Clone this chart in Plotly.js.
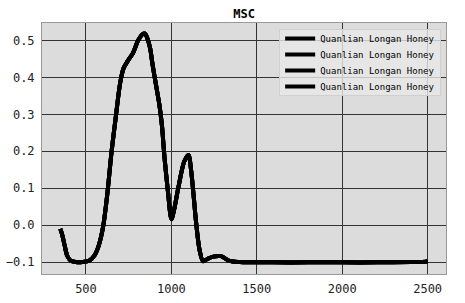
<!DOCTYPE html>
<html><head><meta charset="utf-8">
<script src="https://cdn.plot.ly/plotly-3.0.1.min.js"></script>
<style>html,body{margin:0;padding:0;background:#fff;}#chart{width:465px;height:303px;}</style>
</head><body><div id="chart"></div>
<script>
const wavelengths = [350,360,375,390,410,440,480,520,550,575,600,625,650,675,700,720,745,775,805,830,845,860,875,890,910,930,945,960,980,1000,1015,1040,1075,1100,1115,1130,1145,1165,1185,1210,1240,1290,1340,1400,1600,1800,2000,2200,2400,2490,2500];
const msc = [-0.010,-0.025,-0.055,-0.083,-0.096,-0.100,-0.100,-0.096,-0.082,-0.055,-0.005,0.085,0.200,0.295,0.385,0.425,0.445,0.466,0.500,0.517,0.519,0.505,0.480,0.434,0.379,0.325,0.268,0.181,0.090,0.016,0.040,0.100,0.172,0.190,0.150,0.080,0.005,-0.068,-0.098,-0.092,-0.086,-0.084,-0.097,-0.100,-0.101,-0.101,-0.101,-0.101,-0.100,-0.099,-0.098];
const seriesNames = ["Quanlian Longan Honey","Quanlian Longan Honey","Quanlian Longan Honey","Quanlian Longan Honey"];
const xTicks = [500,1000,1500,2000,2500];
const yTicks = [-0.1,0.0,0.1,0.2,0.3,0.4,0.5];
const yTickText = ["\u22120.1","0.0","0.1","0.2","0.3","0.4","0.5"];
const titleText = "MSC";

const traces = seriesNames.map(n => ({
  x: wavelengths, y: msc, name: n, type: 'scatter', mode: 'lines',
  line: {color: '#000', width: 4, shape: 'spline', smoothing: 0.8}
}));
const mono = "DejaVu Sans Mono, monospace";
const layout = {
  width: 465, height: 303,
  margin: {l: 42, r: 19, t: 23, b: 29},
  paper_bgcolor: '#fff', plot_bgcolor: '#dcdcdc',
  title: {text: titleText, font: {family: mono, size: 12, color: '#000', weight: 'bold'}, x: 0.525, xanchor: 'center', y: 0.955, yanchor: 'middle'},
  xaxis: {range: [242.5, 2607.5], tickvals: xTicks, ticks: '', showgrid: true, gridcolor: '#333', gridwidth: 1,
    zeroline: false, showline: true, mirror: true, linecolor: '#999', linewidth: 1,
    tickfont: {family: mono, size: 12, color: '#222'}, ticklabelstandoff: 4},
  yaxis: {range: [-0.1325, 0.5475], tickvals: yTicks, ticktext: yTickText, ticks: '', showgrid: true, gridcolor: '#333', gridwidth: 1,
    zeroline: false, showline: true, mirror: true, linecolor: '#999', linewidth: 1,
    tickfont: {family: mono, size: 12, color: '#222'}, ticklabelstandoff: 4},
  showlegend: true,
  legend: {x: 0.988, xanchor: 'right', y: 0.976, yanchor: 'top', bgcolor: 'rgba(232,232,232,0.8)', bordercolor: '#d0d0d0', borderwidth: 1,
    font: {family: mono, size: 9, color: '#000'}, tracegroupgap: 0}
};
Plotly.newPlot('chart', traces, layout, {staticPlot: true, displayModeBar: false}).then(gd => {
  // tighten legend row spacing to match the reference (16px rows)
  const items = gd.querySelectorAll('.legend .traces');
  if (!items.length) return;
  const parse = el => {
    const m = /translate\(\s*([-\d.]+)[ ,]+([-\d.]+)\)/.exec(el.getAttribute('transform') || '');
    return m ? [parseFloat(m[1]), parseFloat(m[2])] : [0, 0];
  };
  const [x0, y0] = parse(items[0]);
  items.forEach((el, i) => {
    const [xi] = parse(el);
    el.setAttribute('transform', `translate(${xi},${y0 - 6 + 16 * i})`);
  });
  const bg = gd.querySelector('.legend .bg');
  if (bg) bg.setAttribute('height', 66);
});
</script></body></html>
